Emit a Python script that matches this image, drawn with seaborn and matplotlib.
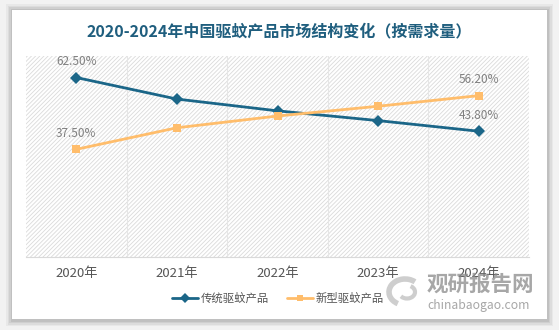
import matplotlib
matplotlib.use("Agg")
import matplotlib.pyplot as plt
from matplotlib.patches import FancyBboxPatch, Rectangle, Arc
import seaborn as sns
import pandas as pd

years = ["2020年", "2021年", "2022年", "2023年", "2024年"]
traditional = [62.5, 55.0, 50.9, 47.5, 43.8]
new_type = [37.5, 45.0, 49.1, 52.5, 56.2]
series_names = ["传统驱蚊产品", "新型驱蚊产品"]
title = "2020-2024年中国驱蚊产品市场结构变化（按需求量）"

sns.set_theme(style="white")
plt.rcParams["font.family"] = ["Noto Sans CJK SC", "DejaVu Sans"]
plt.rcParams["hatch.linewidth"] = 0.6
plt.rcParams["hatch.color"] = "#dadada"

W, H = 559, 330
fig = plt.figure(figsize=(W / 100, H / 100), dpi=100)
fig.patch.set_facecolor("#f2f2f2")

# card with soft shadow
for i, a in enumerate([0.04, 0.05, 0.06, 0.07]):
    pad = (4 - i) * 1.5
    fig.patches.append(FancyBboxPatch(((12 - pad) / W, (10 - pad) / H), (535 + 2 * pad) / W,
                                      (310 + 2 * pad) / H, boxstyle="square,pad=0",
                                      transform=fig.transFigure, facecolor="#000000",
                                      alpha=a, edgecolor="none", zorder=0))
fig.patches.append(Rectangle((12 / W, 11 / H), 535 / W, 309 / H, transform=fig.transFigure,
                             facecolor="white", edgecolor="none", zorder=1))

ax = fig.add_axes([26 / W, 1 - 257 / H, (529 - 26) / W, (257 - 56) / H])
ax.set_zorder(3)
ax.set_facecolor("white")
ax.add_patch(Rectangle((0, 0), 1, 1, transform=ax.transAxes, facecolor="white",
                       hatch="////////", edgecolor="#dadada", linewidth=0, zorder=0))

df = pd.DataFrame({
    "x": list(range(len(years))) * 2,
    "value": traditional + new_type,
    "series": [series_names[0]] * len(years) + [series_names[1]] * len(years),
})
colors = {series_names[0]: "#1b6688", series_names[1]: "#ffbd6b"}
markers = {series_names[0]: "D", series_names[1]: "s"}
sns.lineplot(data=df, x="x", y="value", hue="series", style="series", palette=colors,
             markers=markers, dashes=False, linewidth=2.0, markersize=6,
             markeredgewidth=0, ax=ax, zorder=3, legend=False)

for b in [0.5, 1.5, 2.5, 3.5]:
    ax.axvline(b, color="#e6e6e6", linewidth=0.8, zorder=1)

ax.set_xlim(-0.5, len(years) - 0.5)
ax.set_ylim(0, 70)
ax.set_xticks(range(len(years)))
ax.set_xticklabels(years, fontsize=9.5, color="#555555")
ax.tick_params(axis="x", length=0, pad=7)
ax.set_yticks([])
ax.set_xlabel("")
ax.set_ylabel("")
for s in ["top", "left", "right"]:
    ax.spines[s].set_visible(False)
ax.spines["bottom"].set_color("#d9d9d9")
ax.spines["bottom"].set_linewidth(0.8)

lbl = dict(ha="center", va="bottom", fontsize=8.5, color="#808080", zorder=4)
for idx in [0, len(years) - 1]:
    ax.annotate(f"{traditional[idx]:.2f}%", (idx, traditional[idx]), xytext=(0, 7),
                textcoords="offset points", **lbl)
    ax.annotate(f"{new_type[idx]:.2f}%", (idx, new_type[idx]), xytext=(0, 7),
                textcoords="offset points", **lbl)

fig.text(0.5, 1 - 31 / H, title, ha="center", va="center", fontsize=11.5,
         fontweight="bold", color="#1f5e7e", zorder=5)

handles = [plt.Line2D([], [], color=colors[n], marker=markers[n], linewidth=2,
                      markersize=5, markeredgewidth=0) for n in series_names]
leg = fig.legend(handles, series_names, loc="center", bbox_to_anchor=(278 / W, 1 - 298 / H),
                 ncol=2, frameon=False, fontsize=8.2, handlelength=2.3, handletextpad=0.25,
                 columnspacing=1.5, labelcolor="#555555")
leg.set_zorder(5)

# site mark: swirl emblem and name
cx, cy = 405 / W, 1 - 292 / H
fig.patches.append(Arc((cx, cy), 32 / W, 26 / H, theta1=60, theta2=250,
                       transform=fig.transFigure, color="#c2c2c2", linewidth=4,
                       alpha=0.8, zorder=6))
fig.patches.append(Arc((cx + 2 / W, cy), 16 / W, 13 / H, theta1=230, theta2=70,
                       transform=fig.transFigure, color="#c2c2c2", linewidth=3,
                       alpha=0.8, zorder=6))
fig.text(480 / W, 1 - 284 / H, "观研报告网", ha="center", va="center", fontsize=15.5,
         fontweight="bold", color="#8a8a8a", alpha=0.75, zorder=6)
fig.text(479 / W, 1 - 305 / H, "chinabaogao.com", ha="center", va="center", fontsize=8.8,
         color="#8a8a8a", alpha=0.75, zorder=6)

fig.savefig("out.png", dpi=100, facecolor=fig.get_facecolor())
